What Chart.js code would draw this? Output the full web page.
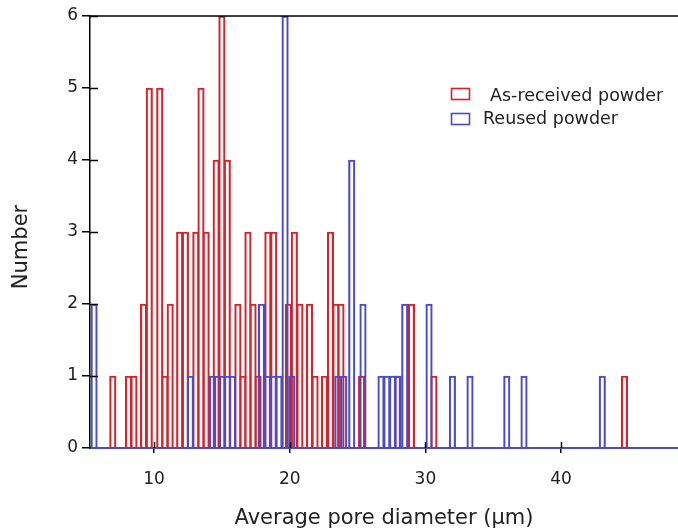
<!DOCTYPE html>
<html><head><meta charset="utf-8">
<script src="https://cdn.jsdelivr.net/npm/chart.js@4/dist/chart.umd.min.js"></script>
<style>html,body{margin:0;padding:0;background:#fff;}#wrap{width:678px;height:531px;}</style>
</head><body><div id="wrap"><canvas id="c" width="678" height="531"></canvas></div>
<script>
// ---- data ----
const xTicks = [10, 20, 30, 40];
const yTicks = [0, 1, 2, 3, 4, 5, 6];
const seriesNames = ['As-received powder', 'Reused powder'];
const xTitle = 'Average pore diameter (\u03bcm)';
const yTitle = 'Number';

const redX = [6.96, 8.12, 8.52, 9.23, 9.65, 10.42, 10.80, 11.19, 11.89, 12.31, 13.08, 13.46, 13.84, 14.58, 15.0, 15.4, 16.18, 16.55, 16.92, 17.30, 17.67, 18.39, 18.82, 19.91, 20.34, 20.75, 21.46, 21.87, 22.56, 23.0, 23.4, 23.78, 25.30, 27.94, 28.97, 30.63, 44.67];
const redN = [1, 1, 1, 2, 5, 5, 1, 2, 3, 3, 3, 5, 3, 4, 6, 4, 2, 1, 3, 2, 1, 3, 3, 2, 3, 2, 2, 1, 1, 3, 2, 2, 1, 1, 2, 1, 1];

const blueX = [5.58, 12.68, 14.31, 14.68, 15.05, 15.42, 15.79, 17.92, 18.36, 18.79, 19.21, 19.66, 20.15, 23.55, 23.98, 24.57, 25.40, 26.73, 27.16, 27.58, 27.99, 28.48, 30.27, 31.99, 33.29, 36.0, 37.27, 43.04];
const blueN = [2, 1, 1, 1, 1, 1, 1, 2, 1, 1, 1, 6, 1, 1, 1, 4, 2, 1, 1, 1, 1, 2, 2, 1, 1, 1, 1, 1];

// ---- styling ----
const RED = '#d4232b';
const BLUE = '#4b4bc6';
const FONT = '"DejaVu Sans", Verdana, sans-serif';

const pts = (xs, ns) => xs.map((x, i) => ({x: x, y: ns[i]}));

const deco = {
  id: 'deco',
  afterDraw(chart) {
    const {ctx, chartArea: a, scales: {x, y}} = chart;
    ctx.save();
    ctx.strokeStyle = '#000';
    ctx.lineWidth = 1.5;
    ctx.beginPath();
    ctx.moveTo(a.left, a.top); ctx.lineTo(a.right, a.top);
    ctx.stroke();
    // inward halves of the crossing ticks
    xTicks.forEach(v => {
      const px = Math.round(x.getPixelForValue(v)) + 0.5;
      ctx.beginPath(); ctx.moveTo(px, a.bottom); ctx.lineTo(px, a.bottom - 6); ctx.stroke();
    });
    yTicks.forEach(v => {
      if (v === 0) return;
      const py = Math.round(y.getPixelForValue(v)) + 0.5;
      ctx.beginPath(); ctx.moveTo(a.left, py); ctx.lineTo(a.left + 8, py); ctx.stroke();
    });
    // y-axis title
    ctx.save();
    ctx.translate(22, 247);
    ctx.rotate(-Math.PI / 2);
    ctx.font = '21px ' + FONT;
    ctx.fillStyle = '#222';
    ctx.textAlign = 'center';
    ctx.textBaseline = 'middle';
    ctx.fillText(yTitle, 0, 0);
    ctx.restore();
    // legend
    const items = [
      {c: RED, t: seriesNames[0], bx: 451.5, by: 88.5, tx: 490, ty: 96},
      {c: BLUE, t: seriesNames[1], bx: 451.5, by: 113.5, tx: 483, ty: 119}
    ];
    ctx.font = '17.5px ' + FONT;
    ctx.textBaseline = 'middle';
    ctx.textAlign = 'left';
    items.forEach(it => {
      ctx.strokeStyle = it.c; ctx.lineWidth = 1.6;
      ctx.strokeRect(it.bx, it.by, 18, 11);
      ctx.fillStyle = '#222';
      ctx.fillText(it.t, it.tx, it.ty);
    });
    ctx.restore();
  }
};

new Chart(document.getElementById('c'), {
  type: 'bar',
  data: {
    datasets: [
      {label: seriesNames[1], data: pts(blueX, blueN), borderColor: BLUE, backgroundColor: 'rgba(0,0,0,0)', borderWidth: 1.5, barThickness: 6.5, order: 0},
      {label: seriesNames[0], data: pts(redX, redN), borderColor: RED, backgroundColor: 'rgba(0,0,0,0)', borderWidth: 1.5, barThickness: 6.5, order: 1}
    ]
  },
  options: {
    responsive: false,
    animation: false,
    devicePixelRatio: 1,
    grouped: false,
    layout: {padding: {top: 16, right: 0, left: 0, bottom: 0}},
    plugins: {legend: {display: false}, tooltip: {enabled: false}},
    scales: {
      x: {
        type: 'linear', min: 5.28, max: 48.62, offset: false,
        afterBuildTicks: s => { s.ticks = xTicks.map(v => ({value: v})); },
        afterFit: s => { s.height = 83; },
        grid: {display: true, offset: false, drawOnChartArea: false, drawTicks: true, tickLength: 5, color: '#000', lineWidth: 1.5},
        border: {display: true, color: BLUE, width: 2},
        ticks: {color: '#222', font: {family: FONT, size: 17}, padding: 16, maxRotation: 0},
        title: {display: true, text: xTitle, color: '#222', font: {family: FONT, size: 21}, padding: {top: 2, bottom: 0}}
      },
      y: {
        type: 'linear', min: 0, max: 6,
        afterBuildTicks: s => { s.ticks = yTicks.map(v => ({value: v})); },
        afterFit: s => { s.width = 90; },
        grid: {display: true, drawOnChartArea: false, drawTicks: true, tickLength: 8, color: '#000', lineWidth: 1.5},
        border: {display: true, color: '#000', width: 1.5},
        ticks: {color: '#222', font: {family: FONT, size: 17}, padding: 4},
        title: {display: false}
      }
    }
  },
  plugins: [deco]
});
</script>
</body></html>
